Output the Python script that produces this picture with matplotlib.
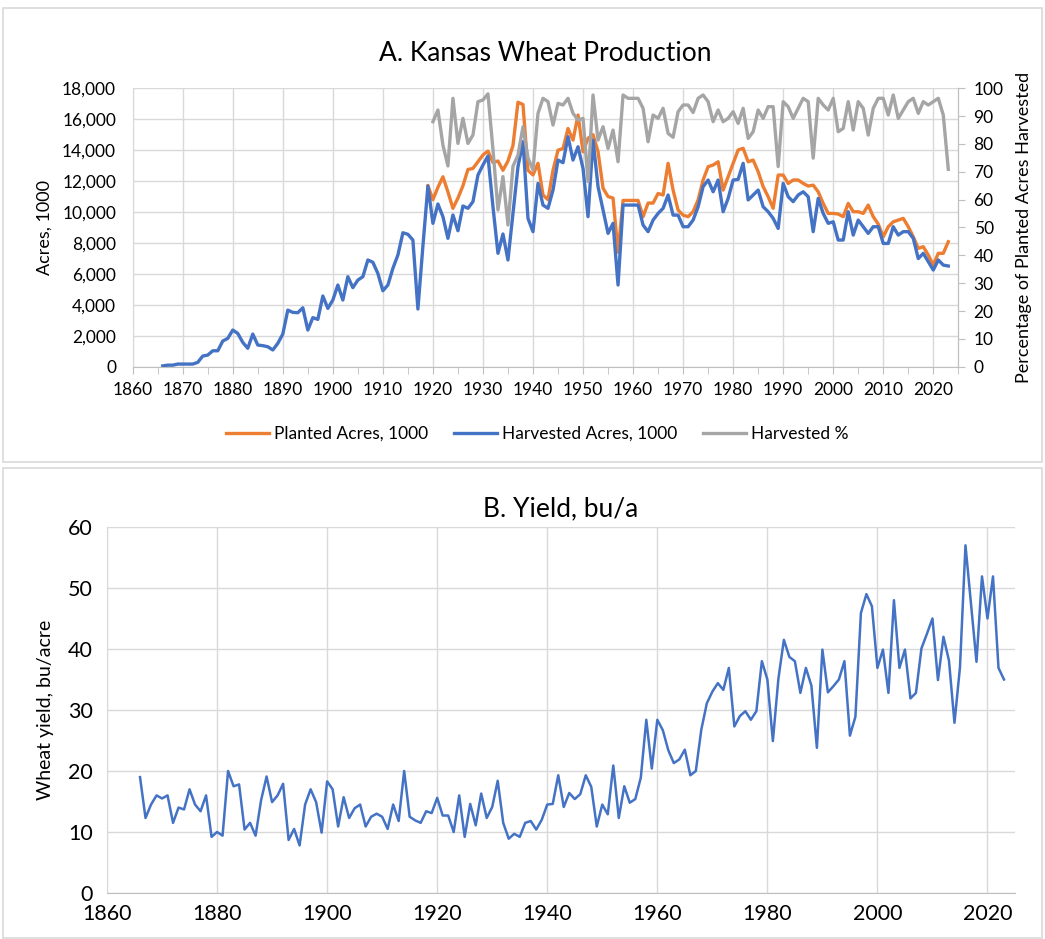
import matplotlib
matplotlib.use('Agg')
import matplotlib.pyplot as plt
from matplotlib.ticker import FuncFormatter, MultipleLocator
from matplotlib.patches import Rectangle
import numpy as np

plt.rcParams['font.family'] = ['Lato', 'DejaVu Sans']

# ---------------- data ----------------
harv_years = list(range(1866, 2024))
harvested = [
    50, 100, 100, 170, 170, 170, 170, 280, 690, 750,
    1030, 1030, 1660, 1830, 2370, 2150, 1570, 1190, 2110, 1400,
    1360, 1290, 1080, 1510, 2110, 3660, 3510, 3490, 3810, 2370,
    3170, 3060, 4570, 3770, 4310, 5280, 4310, 5820, 5110, 5600,
    5820, 6900, 6750, 6030, 4910, 5280, 6360, 7220, 8660, 8560,
    8190, 3730, 7800, 11680, 9270, 10520, 9700, 8300, 9810, 8790,
    10390, 10240, 10670, 12390, 13040, 13620, 10340, 7330, 8580, 6900,
    9910, 12930, 14550, 9590, 8730, 11850, 10450, 10240, 11420, 13360,
    13190, 14870, 13360, 14220, 12820, 9700, 14650, 11640, 10130, 8620,
    9270, 5280, 10450, 10450, 10450, 10450, 9160, 8730, 9480, 9910,
    10240, 11100, 9800, 9800, 9050, 9050, 9480, 10340, 11640, 12070,
    11310, 12070, 10020, 10880, 12070, 12110, 13150, 10780, 11100, 11420,
    10340, 10020, 9590, 8940, 11850, 10990, 10670, 11100, 11310, 10990,
    8730, 10880, 9910, 9270, 9370, 8190, 8190, 10020, 8510, 9480,
    9050, 8620, 9050, 9050, 7970, 7970, 9050, 8510, 8730, 8730,
    8300, 6990, 7330, 6790, 6250, 6900, 6570, 6510,
]

plant_years = list(range(1919, 2024))
planted = [
    11700, 10800, 11600, 12280, 11300, 10240, 10900, 11700, 12750, 12820,
    13250, 13690, 13940, 13200, 13300, 12700, 13300, 14300, 17100, 16950,
    12700, 12400, 13150, 11100, 10800, 12700, 14000, 14100, 15400, 14650,
    16270, 13900, 14770, 15000, 13900, 11540, 11000, 10900, 7400, 10750,
    10750, 10750, 10750, 9700, 10580, 10580, 11200, 11100, 13150, 11420,
    10130, 9800, 9700, 10020, 10780, 12070, 12930, 13040, 13250, 11420,
    12280, 13150, 14010, 14120, 13250, 13360, 12610, 11640, 10990, 10240,
    12390, 12390, 11850, 12070, 12070, 11850, 11680, 11740, 11310, 10560,
    9910, 9910, 9870, 9700, 10560, 10020, 10020, 9910, 10450, 9700,
    9220, 8400, 9050, 9370, 9480, 9590, 9050, 8400, 7650, 7760,
    7220, 6570, 7330, 7330, 8080,
]

pct_years = list(range(1920, 2024))
harvested_pct = [
    88.0, 92.2, 79.6, 72.1, 96.4, 80.2, 89.2, 80.2, 83.2, 95.2,
    95.8, 98.0, 78.0, 56.3, 68.3, 50.9, 72.0, 76.0, 86.2, 75.0,
    70.7, 91.0, 96.4, 95.2, 86.8, 94.6, 94.0, 96.4, 91.0, 88.6,
    89.2, 66.5, 97.6, 81.4, 86.2, 78.4, 85.0, 73.6, 97.6, 96.4,
    96.4, 96.4, 92.8, 80.8, 90.4, 89.2, 92.8, 83.8, 82.4, 91.6,
    94.0, 94.0, 91.3, 96.4, 97.6, 95.2, 88.0, 92.2, 88.0, 89.2,
    91.6, 87.4, 92.8, 82.0, 84.4, 92.2, 89.2, 93.4, 93.4, 71.9,
    95.2, 93.4, 89.2, 92.8, 96.4, 95.2, 74.9, 96.4, 94.0, 92.2,
    96.4, 84.4, 85.6, 95.2, 85.0, 95.2, 92.8, 83.2, 92.8, 96.4,
    96.4, 90.4, 97.6, 89.2, 92.2, 95.2, 96.4, 91.0, 95.2, 94.0,
    95.2, 96.4, 90.4, 70.9,
]

yield_years = list(range(1866, 2024))
yield_bu = [
    19.0, 12.3, 14.5, 16.0, 15.5, 16.0, 11.5, 14.0, 13.7, 17.0,
    14.5, 13.4, 16.0, 9.2, 10.0, 9.4, 20.0, 17.5, 17.8, 10.4,
    11.5, 9.4, 15.2, 19.1, 14.9, 16.0, 17.9, 8.7, 10.5, 7.8,
    14.5, 17.0, 14.9, 9.9, 18.3, 17.0, 10.9, 15.7, 12.3, 13.9,
    14.5, 10.9, 12.5, 13.0, 12.5, 10.5, 14.5, 11.8, 20.0, 12.5,
    11.9, 11.5, 13.4, 13.1, 15.6, 12.7, 12.7, 10.0, 16.0, 9.2,
    14.6, 11.1, 16.3, 12.3, 14.1, 18.4, 11.5, 8.9, 9.7, 9.2,
    11.5, 11.8, 10.4, 12.0, 14.5, 14.6, 19.3, 14.1, 16.4, 15.4,
    16.2, 19.3, 17.4, 10.9, 14.5, 12.9, 20.9, 12.3, 17.5, 14.8,
    15.4, 18.9, 28.4, 20.4, 28.4, 26.7, 23.4, 21.3, 21.9, 23.5,
    19.3, 20.0, 26.8, 31.1, 33.0, 34.4, 33.3, 36.9, 27.3, 29.0,
    29.8, 28.4, 29.8, 38.0, 35.0, 24.9, 35.1, 41.5, 38.7, 38.0,
    32.8, 36.9, 34.0, 23.8, 39.9, 32.9, 33.9, 35.0, 38.0, 25.8,
    28.9, 45.9, 49.0, 47.0, 36.9, 39.9, 32.8, 48.0, 36.9, 39.9,
    31.9, 32.8, 40.1, 42.5, 45.0, 34.9, 42.0, 38.1, 27.9, 37.0,
    57.0, 47.4, 37.9, 51.9, 45.0, 51.9, 36.9, 35.0,
]

title_a = "A. Kansas Wheat Production"
title_b = "B. Yield, bu/a"
labels = ["Planted Acres, 1000", "Harvested Acres, 1000", "Harvested %"]

ORANGE = '#ED7D31'
BLUE = '#4472C4'
GREY = '#A5A5A5'
GRID = '#D9D9D9'
AXIS = '#BFBFBF'
TXT = '#000000'

W, H = 1045, 939
fig = plt.figure(figsize=(W / 100, H / 100), dpi=100)

def fx(px):
    return px / W

def fy(py):
    return 1 - py / H

# chart borders
fig.patches.append(Rectangle((fx(3), fy(462)), fx(1039), (462 - 8) / H,
                             transform=fig.transFigure, fill=False,
                             edgecolor=GRID, lw=1.2))
fig.patches.append(Rectangle((fx(3), fy(938)), fx(1039), (938 - 468) / H,
                             transform=fig.transFigure, fill=False,
                             edgecolor=GRID, lw=1.2))

# ---------------- Panel A ----------------
axA = fig.add_axes([fx(132.7), fy(366.7), fx(958.3 - 132.7), (366.7 - 88.3) / H])
axA.plot(plant_years, planted, color=ORANGE, lw=2.4, solid_joinstyle='round', zorder=3)
axA.plot(harv_years, harvested, color=BLUE, lw=2.4, solid_joinstyle='round', zorder=4)
axA.set_xlim(1860, 2025)
axA.set_ylim(0, 18000)
axA.yaxis.set_major_locator(MultipleLocator(2000))
axA.xaxis.set_major_locator(MultipleLocator(10))
axA.xaxis.set_minor_locator(MultipleLocator(5))
axA.yaxis.set_major_formatter(FuncFormatter(lambda v, p: f"{int(v):,}"))
axA.grid(True, which='major', color=GRID, lw=1)
axA.set_axisbelow(True)
axA.spines['top'].set_visible(False)
axA.spines['left'].set_color(GRID)
axA.spines['bottom'].set_color(AXIS)
axA.spines['right'].set_color(AXIS)
axA.tick_params(axis='y', length=0, pad=12, labelsize=12.5, colors=TXT)
axA.tick_params(axis='x', which='both', length=5, color=AXIS, direction='out',
                pad=6, labelsize=12.5, colors=TXT)
axA.set_ylabel("Acres, 1000", fontsize=13, labelpad=7)
axA.set_title(title_a, fontsize=19, pad=20)

axR = axA.twinx()
axR.plot(pct_years, harvested_pct, color=GREY, lw=2.4, solid_joinstyle='round', zorder=5)
axR.set_ylim(0, 100)
axR.yaxis.set_major_locator(MultipleLocator(10))
axR.spines['top'].set_visible(False)
axR.spines['left'].set_visible(False)
axR.spines['bottom'].set_visible(False)
axR.spines['right'].set_color(AXIS)
axR.tick_params(axis='y', length=5, color=AXIS, pad=6, labelsize=12.5, colors=TXT)
axR.set_ylabel("Percentage of Planted Acres Harvested", fontsize=13, labelpad=9)

handles = [plt.Line2D([], [], color=c, lw=2.4) for c in (ORANGE, BLUE, GREY)]
fig.legend(handles, labels, loc='center', bbox_to_anchor=(fx(537), fy(434)),
           ncol=3, frameon=False, fontsize=12.5, handlelength=2.5,
           columnspacing=1.5, handletextpad=0.25)

# ---------------- Panel B ----------------
axB = fig.add_axes([fx(107), fy(893), fx(1015 - 107), (893 - 527) / H])
axB.plot(yield_years, yield_bu, color=BLUE, lw=1.8, solid_joinstyle='round')
axB.set_xlim(1860, 2025)
axB.set_ylim(0, 60)
axB.yaxis.set_major_locator(MultipleLocator(10))
axB.xaxis.set_major_locator(MultipleLocator(20))
axB.grid(True, color=GRID, lw=1)
axB.set_axisbelow(True)
axB.spines['top'].set_visible(False)
axB.spines['right'].set_visible(False)
axB.spines['left'].set_color(GRID)
axB.spines['bottom'].set_color(AXIS)
axB.tick_params(axis='both', length=0, labelsize=15.5, colors=TXT)
axB.tick_params(axis='y', pad=10)
axB.tick_params(axis='x', pad=8)
axB.set_ylabel("Wheat yield, bu/acre", fontsize=14, labelpad=10)
axB.set_title(title_b, fontsize=19, pad=8)

fig.savefig('out.png', dpi=100)
